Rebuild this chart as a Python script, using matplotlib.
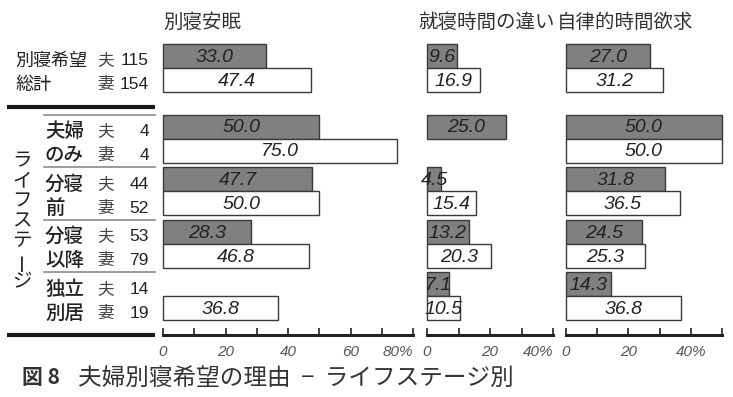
import matplotlib
matplotlib.use("Agg")
import matplotlib.pyplot as plt
from matplotlib import font_manager

JP_FONT = "Noto Sans CJK JP"
_avail = {f.name for f in font_manager.fontManager.ttflist}
NUM_FONT = next(n for n in ["Liberation Sans Narrow", "Liberation Sans", "DejaVu Sans"] if n in _avail)
plt.rcParams["font.family"] = [JP_FONT, "DejaVu Sans"]

# data
group_line1 = ["別寝希望", "夫婦", "分寝", "分寝", "独立"]
group_line2 = ["総計", "のみ", "前", "以降", "別居"]
n_husband = [115, 4, 44, 53, 14]
n_wife = [154, 4, 52, 79, 19]

panel_titles = ["別寝安眠", "就寝時間の違い", "自律的時間欲求"]
sleep_husband = [33.0, 50.0, 47.7, 28.3, None]
sleep_wife = [47.4, 75.0, 50.0, 46.8, 36.8]
bedtime_husband = [9.6, 25.0, 4.5, 13.2, 7.1]
bedtime_wife = [16.9, None, 15.4, 20.3, 10.5]
own_time_husband = [27.0, 50.0, 31.8, 24.5, 14.3]
own_time_wife = [31.2, 50.0, 36.5, 25.3, 36.8]
panel_max = [80, 40, 50]

caption_no = "図 8"
caption = "夫婦別寝希望の理由  −  ライフステージ別"
stage_label = "ライフステージ"

# layout (pixels)
W, H = 733, 397
Y_TOP, Y_BOT = 29.6, 335
PANEL_X = [(163, 413), (427, 553), (566, 722)]
group_top = [0.0] + [2.95 + 2.19 * i for i in range(4)]
YLIM = (12.125, -0.6)

GRAY = "#808080"
EDGE = "#3a3a3a"
TXT = "#222222"

fig = plt.figure(figsize=(W / 100, H / 100), dpi=100)


def px_axes(x0, x1):
    return fig.add_axes([x0 / W, 1 - Y_BOT / H, (x1 - x0) / W, (Y_BOT - Y_TOP) / H])


panels = [
    (sleep_husband, sleep_wife),
    (bedtime_husband, bedtime_wife),
    (own_time_husband, own_time_wife),
]

for (x0, x1), (hus, wif), xmax, title in zip(PANEL_X, panels, panel_max, panel_titles):
    ax = px_axes(x0, x1)
    ax.set_xlim(0, xmax)
    ax.set_ylim(*YLIM)
    for vals, off, color in [(hus, 0.5, GRAY), (wif, 1.5, "white")]:
        for top, v in zip(group_top, vals):
            if v is None:
                continue
            y = top + off
            bars = ax.barh(y, v, height=1.0, color=color, edgecolor=EDGE, linewidth=1.0)
            for b in bars:
                b.set_clip_on(False)
            ax.text(v / 2, y + 0.05, f"{v:.1f}", ha="center", va="center", style="italic",
                    family=NUM_FONT, fontsize=14, color=TXT, clip_on=False)
    for s in ["top", "left", "right"]:
        ax.spines[s].set_visible(False)
    ax.spines["bottom"].set_linewidth(2.2)
    ax.spines["bottom"].set_color("#222222")
    ticks = list(range(0, xmax + 1, 10))
    labels = [("" if t % 20 else str(t)) for t in ticks]
    last = max(t for t in ticks if t % 20 == 0)
    labels[ticks.index(last)] = f"{last}%"
    ax.set_xticks(ticks)
    ax.set_xticklabels(labels, style="italic", family=NUM_FONT, fontsize=11, color="#555555")
    if last == xmax:
        ax.get_xticklabels()[ticks.index(last)].set_ha("right")
    ax.tick_params(axis="x", direction="in", length=5, width=1.2, color="#222222", pad=7)
    ax.set_yticks([])
    ax.patch.set_alpha(0)
    fig.text((x0 - 9 if x0 > 200 else x0) / W, 1 - 22 / H, title, ha="left", va="center",
             fontsize=14, color="#333333")

# left label area
lax = px_axes(0, 163)
lax.set_xlim(0, 163)
lax.set_ylim(*YLIM)
lax.axis("off")

for i, (top, l1, l2, nh, nw) in enumerate(zip(group_top, group_line1, group_line2, n_husband, n_wife)):
    yh, yw = top + 0.5 + 0.2, top + 1.5 + 0.2
    if i == 0:
        lax.text(15, yh, l1, ha="left", va="center", fontsize=13, color="#222222")
        lax.text(15, yw, l2, ha="left", va="center", fontsize=13, color="#222222")
    else:
        lax.text(45, yh, l1, ha="left", va="center", fontsize=14, weight="medium", color="#222222")
        lax.text(45, yw, l2, ha="left", va="center", fontsize=14, weight="medium", color="#222222")
        lax.plot([44, 155], [top, top], color="#8a8a8a", lw=1.2, clip_on=False)
    lax.text(106, yh, "夫", ha="center", va="center", fontsize=12, color="#444444")
    lax.text(106, yw, "妻", ha="center", va="center", fontsize=12, color="#444444")
    lax.text(149, yh, str(nh), ha="right", va="center", family=NUM_FONT, fontsize=12.5, color="#222222")
    lax.text(149, yw, str(nw), ha="right", va="center", family=NUM_FONT, fontsize=12.5, color="#222222")

lax.plot([7, 155], [2.625, 2.625], color="#1a1a1a", lw=3, clip_on=False, solid_capstyle="butt")
lax.plot([7, 155], [YLIM[0], YLIM[0]], color="#1a1a1a", lw=3, clip_on=False, solid_capstyle="butt")

for k, ch in enumerate(stage_label):
    y = 4.85 + k * 0.84
    rot = 90 if ch == "ー" else 0
    lax.text(22, y, ch, ha="center", va="center", fontsize=14, rotation=rot, color="#222222")

fig.text(22 / W, 1 - 378 / H, caption_no, ha="left", va="center", fontsize=15, weight="bold", color="#333333")
fig.text(78 / W, 1 - 378 / H, caption, ha="left", va="center", fontsize=17, color="#333333")

fig.savefig("out.png", dpi=100)
